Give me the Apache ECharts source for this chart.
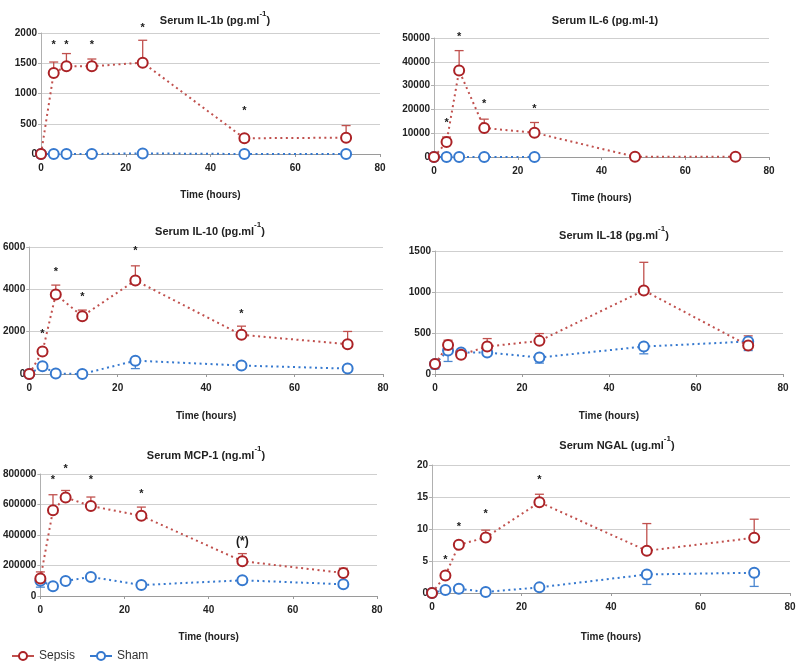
<!DOCTYPE html>
<html>
<head>
<meta charset="utf-8">
<script src="https://cdn.jsdelivr.net/npm/echarts@6/dist/echarts.min.js"></script>
<style>
html,body{margin:0;padding:0;background:#fff;}
#chart{width:800px;height:661px;}
</style>
</head>
<body>
<div id="chart"></div>
<script>
// ---- Data ----
const hours = [0, 3, 6, 12, 24, 48, 72];
const xTicks = [0, 20, 40, 60, 80];

const il1bSepsis    = [0, 1340, 1450, 1450, 1510, 260, 270];
const il1bSepsisErr = [null, 1520, 1660, 1570, 1880, null, 470];
const il1bSham      = [0, 0, 0, 0, 10, 0, 0];
const il1bShamErr   = [null, null, null, null, null, null, null];
const il1bStars     = [[3, 1860, '*'], [6, 1860, '*'], [12, 1860, '*'], [24, 2130, '*'], [48, 760, '*']];

const il6Sepsis     = [0, 6300, 36300, 12200, 10200, 100, 100];
const il6SepsisErr  = [null, 8400, 44700, 15900, 14500, null, null];
const il6Sham       = [0, 0, 0, 0, 0, null, null];
const il6ShamErr    = [null, null, null, null, null, null, null];
const il6Stars      = [[3, 15500, '*'], [6, 51700, '*'], [12, 23500, '*'], [24, 21400, '*']];

const il10Sepsis    = [0, 1060, 3760, 2730, 4420, 1850, 1410];
const il10SepsisErr = [null, null, 4200, 3020, 5110, 2260, 2010];
const il10Sham      = [0, 365, 20, 0, 630, 400, 255];
const il10ShamErr   = [null, 220, null, null, 255, null, null];
const il10Stars     = [[3, 2050, '*'], [6, 4940, '*'], [12, 3770, '*'], [24, 5950, '*'], [48, 2970, '*']];

const il18Sepsis    = [121, 355, 234, 335, 404, 1019, 347];
const il18SepsisErr = [null, 412, null, 432, 493, 1362, 465];
const il18Sham      = [121, 286, 262, 262, 201, 335, 396];
const il18ShamErr   = [61, 153, null, null, 133, 246, 286];
const il18Stars     = [];

const mcpSepsis     = [114000, 563000, 646000, 590000, 526000, 228000, 151000];
const mcpSepsisErr  = [158000, 664000, 692000, 649000, 583000, 278000, 182000];
const mcpSham       = [100000, 64000, 99000, 125000, 72000, 103000, 77000];
const mcpShamErr    = [58000, null, null, null, null, null, null];
const mcpStars      = [[3, 778000, '*'], [6, 855000, '*'], [12, 778000, '*'], [24, 686000, '*'], [48, 357000, '(*)']];

const ngalSepsis    = [0, 2.74, 7.53, 8.67, 14.18, 6.6, 8.62];
const ngalSepsisErr = [null, null, null, 9.82, 15.43, 10.85, 11.53];
const ngalSham      = [0, 0.47, 0.67, 0.16, 0.88, 2.9, 3.16];
const ngalShamErr   = [null, null, null, null, null, 1.34, 1.03];
const ngalStars     = [[3, 5.6, '*'], [6, 10.85, '*'], [12, 12.8, '*'], [24, 18.2, '*']];

const panels = [
  {title: ['Serum IL-1b (pg.ml', '-1', ')'], yMax: 2000, yInt: 500,
   sepsis: il1bSepsis, sepsisErr: il1bSepsisErr, sham: il1bSham, shamErr: il1bShamErr, stars: il1bStars},
  {title: ['Serum IL-6 (pg.ml-1)', '', ''], yMax: 50000, yInt: 10000,
   sepsis: il6Sepsis, sepsisErr: il6SepsisErr, sham: il6Sham, shamErr: il6ShamErr, stars: il6Stars},
  {title: ['Serum IL-10 (pg.ml', '-1', ')'], yMax: 6000, yInt: 2000,
   sepsis: il10Sepsis, sepsisErr: il10SepsisErr, sham: il10Sham, shamErr: il10ShamErr, stars: il10Stars},
  {title: ['Serum IL-18 (pg.ml', '-1', ')'], yMax: 1500, yInt: 500,
   sepsis: il18Sepsis, sepsisErr: il18SepsisErr, sham: il18Sham, shamErr: il18ShamErr, stars: il18Stars},
  {title: ['Serum MCP-1 (ng.ml', '-1', ')'], yMax: 800000, yInt: 200000,
   sepsis: mcpSepsis, sepsisErr: mcpSepsisErr, sham: mcpSham, shamErr: mcpShamErr, stars: mcpStars},
  {title: ['Serum NGAL (ug.ml', '-1', ')'], yMax: 20, yInt: 5,
   sepsis: ngalSepsis, sepsisErr: ngalSepsisErr, sham: ngalSham, shamErr: ngalShamErr, stars: ngalStars}
];

// ---- Layout (pixels) ----
const layout = [
  {left: 41, right: 420, top: 33, height: 121, titleX: 210, titleY: 5, nameGap: 36},
  {left: 434, right: 31, top: 38, height: 119, titleX: 600, titleY: 5, nameGap: 36},
  {left: 28, right: 417, top: 247, height: 127, titleX: 205, titleY: 216, nameGap: 37},
  {left: 435, right: 17, top: 251, height: 123, titleX: 609, titleY: 220, nameGap: 37},
  {left: 36, right: 423, top: 474, height: 122, titleX: 201, titleY: 440, nameGap: 36},
  {left: 432, right: 10, top: 465, height: 128, titleX: 612, titleY: 430, nameGap: 39}
];

const RED = '#ab2226';
const RED_ERR = '#c0504d';
const BLUE = '#3679cf';
const BLUE_ERR = '#4a86d0';
const FONT = '"Liberation Sans", Arial, Helvetica, sans-serif';

const grids = [], xAxes = [], yAxes = [], titles = [], series = [];

function errSeries(i, vals, bounds, color) {
  const data = [];
  hours.forEach((h, k) => {
    if (bounds[k] != null && vals[k] != null) data.push([h, vals[k], bounds[k]]);
  });
  return {
    type: 'custom', xAxisIndex: i, yAxisIndex: i, z: 1, silent: true,
    data: data,
    encode: {x: 0, y: [1, 2]},
    renderItem: function (params, api) {
      const p1 = api.coord([api.value(0), api.value(1)]);
      const p2 = api.coord([api.value(0), api.value(2)]);
      const cap = 4.5;
      const st = {stroke: color, lineWidth: 1.3};
      return {
        type: 'group',
        children: [
          {type: 'line', shape: {x1: p1[0], y1: p1[1], x2: p2[0], y2: p2[1]}, style: st},
          {type: 'line', shape: {x1: p2[0] - cap, y1: p2[1], x2: p2[0] + cap, y2: p2[1]}, style: st}
        ]
      };
    }
  };
}

function starSeries(i, stars) {
  return {
    type: 'custom', xAxisIndex: i, yAxisIndex: i, z: 5, silent: true,
    data: stars,
    encode: {x: 0, y: 1},
    renderItem: function (params, api) {
      const p = api.coord([api.value(0), api.value(1)]);
      const txt = stars[params.dataIndex][2];
      const isParen = txt.length > 1;
      return {
        type: 'text',
        style: {
          x: p[0], y: p[1] + (isParen ? 0 : 3),
          text: txt,
          fill: '#1a1a1a',
          font: 'bold ' + (isParen ? 12 : 11) + 'px ' + FONT,
          align: 'center', verticalAlign: 'middle'
        }
      };
    }
  };
}

panels.forEach((p, i) => {
  const L = layout[i];
  grids.push({left: L.left, right: L.right, top: L.top, height: L.height});
  titles.push({
    text: '{a|' + p.title[0] + '}' + (p.title[1] ? '{s|' + p.title[1] + '}' : '') + '{a|' + p.title[2] + '}',
    left: L.titleX, top: L.titleY, textAlign: 'center',
    textStyle: {
      rich: {
        a: {fontFamily: FONT, fontWeight: 'bold', fontSize: 11, color: '#222', lineHeight: 16, verticalAlign: 'bottom'},
        s: {fontFamily: FONT, fontWeight: 'bold', fontSize: 8, color: '#222', lineHeight: 16, verticalAlign: 'top'}
      }
    }
  });
  xAxes.push({
    type: 'value', gridIndex: i, min: 0, max: 80, interval: 20,
    name: 'Time (hours)', nameLocation: 'middle', nameGap: L.nameGap,
    nameTextStyle: {fontFamily: FONT, fontWeight: 'bold', fontSize: 10, color: '#222'},
    axisLine: {show: true, lineStyle: {color: '#9a9a9a', width: 1}},
    axisTick: {show: true, length: 3, lineStyle: {color: '#9a9a9a'}},
    axisLabel: {fontFamily: FONT, fontWeight: 'bold', fontSize: 10, color: '#222', margin: 9,
                formatter: v => String(v)},
    splitLine: {show: false}
  });
  yAxes.push({
    type: 'value', gridIndex: i, min: 0, max: p.yMax, interval: p.yInt,
    axisLine: {show: true, lineStyle: {color: '#b0b0b0', width: 1}},
    axisTick: {show: true, length: 3, lineStyle: {color: '#b0b0b0'}},
    axisLabel: {fontFamily: FONT, fontWeight: 'bold', fontSize: 10, color: '#222', margin: 4,
                formatter: v => String(v)},
    splitLine: {show: true, lineStyle: {color: '#cfcfcf', width: 1}}
  });

  series.push(errSeries(i, p.sham, p.shamErr, BLUE_ERR));
  series.push(errSeries(i, p.sepsis, p.sepsisErr, RED_ERR));
  series.push({
    name: 'Sham', type: 'line', xAxisIndex: i, yAxisIndex: i, z: 2,
    data: hours.map((h, k) => [h, p.sham[k]]).filter(d => d[1] != null),
    symbol: 'emptyCircle', symbolSize: 10, showAllSymbol: true,
    itemStyle: {color: BLUE, borderColor: BLUE, borderWidth: 2.6},
    lineStyle: {color: BLUE, width: 2, type: [2, 3.5]},
    animation: false
  });
  series.push({
    name: 'Sepsis', type: 'line', xAxisIndex: i, yAxisIndex: i, z: 3,
    data: hours.map((h, k) => [h, p.sepsis[k]]).filter(d => d[1] != null),
    symbol: 'emptyCircle', symbolSize: 10, showAllSymbol: true,
    itemStyle: {color: RED, borderColor: RED, borderWidth: 2.6},
    lineStyle: {color: RED_ERR, width: 2, type: [2, 3.5]},
    animation: false
  });
  if (p.stars.length) series.push(starSeries(i, p.stars));
});

const chart = echarts.init(document.getElementById('chart'), null, {renderer: 'canvas'});
chart.setOption({
  animation: false,
  backgroundColor: '#ffffff',
  title: titles,
  grid: grids,
  xAxis: xAxes,
  yAxis: yAxes,
  legend: {
    data: ['Sepsis', 'Sham'],
    left: 6, top: 645, itemWidth: 22, itemHeight: 10, itemGap: 14,
    textStyle: {fontFamily: FONT, fontSize: 12, color: '#333'},
    lineStyle: {type: 'solid', width: 2}
  },
  series: series
});
</script>
</body>
</html>
